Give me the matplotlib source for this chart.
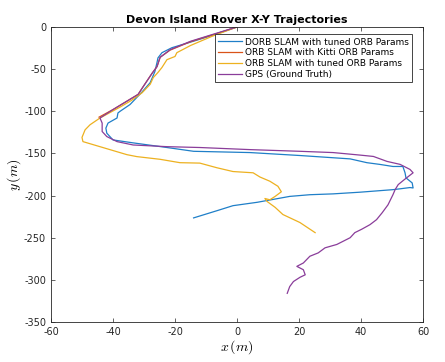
import numpy as np
import matplotlib
matplotlib.use('Agg')
import matplotlib.pyplot as plt

plt.rcParams['axes.unicode_minus'] = False
plt.rcParams['mathtext.fontset'] = 'cm'

# trajectories (metres)
dorb_x = [0, -8, -15, -21, -24.2, -25.5, -25.8, -26.5, -28, -30.6, -34.5, -37.7, -38.4, -38.7,
          -41.6, -42.3, -42, -40, -33.5, -22.6, -14, 4.2, 20.3, 36.5, 41.9, 46, 50.3, 53.5, 54.2,
          54.5, 56.5, 56.8, 55.8, 52.6, 50.3, 39.7, 31, 23.5, 17, 6.5, -1.3, -6.5, -14]
dorb_y = [0, -10, -18, -24.6, -30.5, -36.7, -42, -53, -66, -77, -92, -100, -102, -108,
          -114, -120, -126, -134, -137.5, -143, -147.5, -149, -152.5, -156.5, -161, -163, -165.5,
          -165.5, -173, -179, -185, -191, -190.5, -192, -193, -196, -198, -199, -201, -208,
          -212, -218, -226.5]

kitti_x = [0, -8, -15, -21.6, -24.8, -25.8, -27.4, -30.3, -31.9, -35.5, -40, -44.5]
kitti_y = [0, -9.5, -17.5, -27.5, -36, -47, -55, -71, -80, -88, -98, -107]

tuned_x = [0, -8, -15, -19.4, -20, -22.6, -24.2, -25.5, -27, -28, -30.6, -34, -37.7, -44.2,
           -47.4, -49, -50, -49.7, -46.5, -41, -35.5, -32.3, -24.8, -18.4, -12, -6.5, -1.3, 5.2,
           7.4, 10.6, 13.2, 14.3, 12.3, 10.6, 9, 9.7, 12.3, 14.8, 20.3, 25.2]
tuned_y = [0, -11, -22, -30.5, -35, -38.8, -48, -54, -60, -68, -78, -87, -95, -108,
           -116, -122, -131, -136, -139.5, -145.5, -151.5, -153.8, -157, -161, -161.5, -167,
           -171.5, -173, -178, -183, -189, -195.5, -201, -205, -203.5, -207, -214, -222.5,
           -232, -244]

gps_x = [0, -8, -15, -21.6, -24.8, -25.8, -27.4, -30.3, -31.9, -35.5, -40, -44.2, -43.5, -43.5,
         -42, -38.7, -33.5, -22.6, -12, 4.2, 20.3, 31, 39.7, 44, 48.4, 52.6, 55.8, 56.8, 54,
         52, 51, 50.3, 48.7, 46.8, 45, 42.9, 40.2, 38, 36.5, 32.2, 28.4, 26.2, 23.5, 21.4,
         19.3, 21.4, 22, 20.3, 18.2, 17, 16.2]
gps_y = [0, -9, -17, -27, -36, -47, -55, -71, -80, -88, -98, -108, -114, -124,
         -130, -136, -140, -142, -143, -145.5, -147.5, -149, -152, -153.6, -159.5, -163, -169,
         -173, -181, -187, -193, -199, -211, -220.5, -228.6, -234.5, -240, -244, -250, -258,
         -262, -268, -272, -280, -284, -288, -294, -297, -302, -308, -316]

labels = ['DORB SLAM with tuned ORB Params', 'ORB SLAM with Kitti ORB Params',
          'ORB SLAM with tuned ORB Params', 'GPS (Ground Truth)']
colors = ['#1f7fc8', '#D95319', '#EDB120', '#8a3d9a']

fig = plt.figure(figsize=(4.45, 3.62), dpi=100)
ax = fig.add_axes([0.1146, 0.1105, 0.836, 0.815])

ax.plot(dorb_x, dorb_y, color=colors[0], lw=0.9, label=labels[0])
ax.plot(kitti_x, kitti_y, color=colors[1], lw=0.9, label=labels[1])
ax.plot(tuned_x, tuned_y, color=colors[2], lw=0.9, label=labels[2])
ax.plot(gps_x, gps_y, color=colors[3], lw=0.9, label=labels[3])

ax.set_xlim(-60, 60)
ax.set_ylim(-350, 0)
ax.set_xticks(np.arange(-60, 61, 20))
ax.set_yticks(np.arange(-350, 1, 50))
ax.tick_params(direction='in', top=True, right=True, labelsize=7, colors='#262626',
               length=3, width=0.5)
for s in ax.spines.values():
    s.set_color('#262626')
    s.set_linewidth(0.6)

ax.set_title('Devon Island Rover X-Y Trajectories', fontsize=8, fontweight='bold', pad=3)
ax.set_xlabel(r'$x\,(m)$', fontsize=10, labelpad=1)
ax.set_ylabel(r'$y\,(m)$', fontsize=10, labelpad=1)

leg = ax.legend(loc='upper right', fontsize=6.5, fancybox=False, framealpha=1,
                edgecolor='#262626', borderpad=0.35, labelspacing=0.2, handlelength=2.6,
                handletextpad=0.4, bbox_to_anchor=(0.983, 0.99))
leg.get_frame().set_linewidth(0.6)

fig.savefig('out.png', dpi=100)
